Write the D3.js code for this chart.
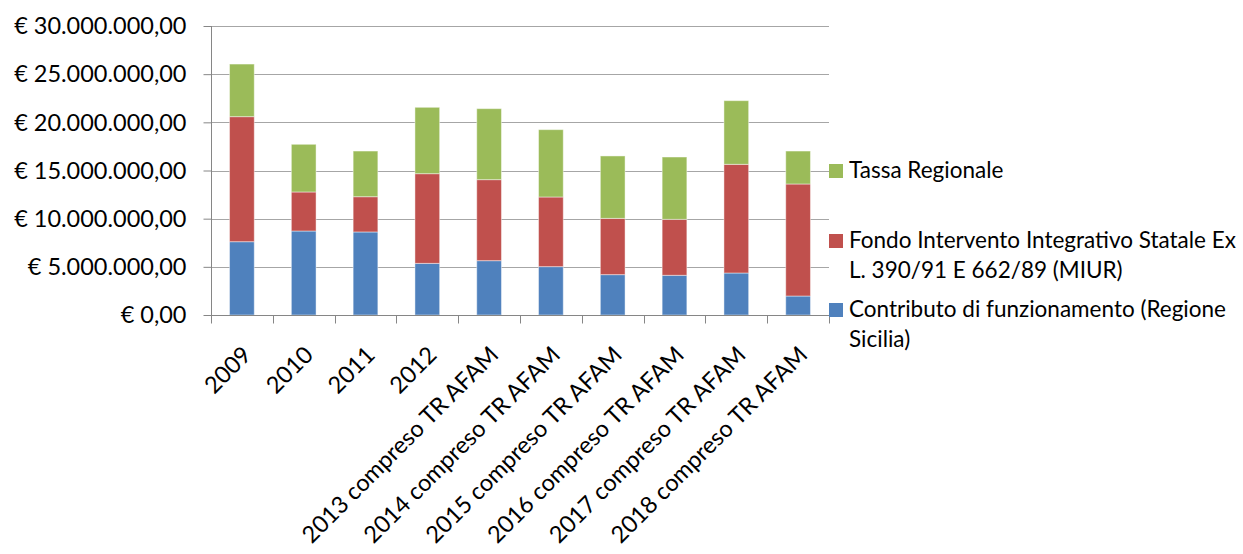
<!DOCTYPE html>
<html>
<head>
<meta charset="utf-8">
<script src="https://cdn.jsdelivr.net/npm/d3@7"></script>
<style>
  html, body { margin: 0; padding: 0; background: #fff; }
  svg { display: block; font-family: Lato, "Liberation Sans", sans-serif; }
</style>
</head>
<body>
<svg id="chart" width="1243" height="554"></svg>
<script>
const categories = [
  "2009", "2010", "2011", "2012",
  "2013 compreso TR AFAM", "2014 compreso TR AFAM", "2015 compreso TR AFAM",
  "2016 compreso TR AFAM", "2017 compreso TR AFAM", "2018 compreso TR AFAM"
];
// Contributo di funzionamento (Regione Sicilia)
const contributo = [7610000, 8720000, 8620000, 5360000, 5640000, 5020000, 4190000, 4120000, 4360000, 1970000];
// Fondo Intervento Integrativo Statale Ex L. 390/91 E 662/89 (MIUR)
const fondo = [12980000, 4050000, 3660000, 9310000, 8410000, 7230000, 5840000, 5810000, 11280000, 11630000];
// Tassa Regionale
const tassa = [5460000, 4950000, 4740000, 6890000, 7370000, 6990000, 6480000, 6470000, 6610000, 3420000];

const seriesKeys = ["contributo", "fondo", "tassa"];
const seriesColors = ["#4F81BD", "#C0504D", "#9BBB59"];
const legendLines = [
  ["Contributo di funzionamento (Regione", "Sicilia)"],
  ["Fondo Intervento Integrativo Statale Ex", "L. 390/91 E 662/89 (MIUR)"],
  ["Tassa Regionale"]
];
const yTicks = [0, 5000000, 10000000, 15000000, 20000000, 25000000, 30000000];

(function () {
const table = categories.map((c, i) => ({
  cat: c, contributo: contributo[i], fondo: fondo[i], tassa: tassa[i]
}));

const svg = d3.select("#chart");
const pL = 211, pR = 829, pT = 26, pB = 315;
const FONT = "Lato, 'Liberation Sans', sans-serif";

const x = d3.scaleBand().domain(categories).range([pL, pR])
  .paddingInner(0.6).paddingOuter(0.3);
const y = d3.scaleLinear().domain([0, 30000000]).range([pB, pT]);

const locale = d3.formatLocale({ decimal: ",", thousands: ".", grouping: [3], currency: ["€ ", ""] });
const fmt = locale.format("$,.2f");

// gridlines
svg.append("g")
  .selectAll("line").data(yTicks.filter(d => d > 0)).join("line")
  .attr("x1", pL).attr("x2", pR)
  .attr("y1", d => Math.round(y(d)) + 0.5).attr("y2", d => Math.round(y(d)) + 0.5)
  .attr("stroke", "#a6a6a6").attr("stroke-width", 1);

// bars
const stacked = d3.stack().keys(seriesKeys)(table);
svg.append("g").selectAll("g").data(stacked).join("g")
  .attr("fill", (d, i) => seriesColors[i])
  .selectAll("rect").data(d => d).join("rect")
  .attr("x", d => x(d.data.cat))
  .attr("width", x.bandwidth())
  .attr("y", d => y(d[1]))
  .attr("height", d => y(d[0]) - y(d[1]))
  .attr("stroke", "rgba(255,255,255,0.45)")
  .attr("stroke-width", 1);

// y axis
const yAxis = d3.axisLeft(y).tickValues(yTicks).tickFormat(fmt).tickSize(8).tickPadding(17);
const gy = svg.append("g").attr("transform", `translate(${pL + 0.5},0)`).call(yAxis)
  .attr("font-family", FONT);
gy.select(".domain").attr("stroke", "#868686").attr("d", `M0,${pT}V${pB}`);
gy.selectAll(".tick line").attr("stroke", "#868686");
gy.selectAll(".tick text").attr("fill", "#000").attr("font-size", 23.5)
  .attr("dy", "0.33em");

// x axis
const xAxis = d3.axisBottom(x).tickSize(0).tickFormat("");
const gx = svg.append("g").attr("transform", `translate(0,${pB + 0.5})`).call(xAxis)
  .attr("font-family", FONT);
gx.select(".domain").attr("stroke", "#868686").attr("d", `M${pL},0H${pR}`);
const boundaries = categories.map(c => x(c) - x.step() * x.paddingOuter()).concat([pR]);
gx.append("g").selectAll("line").data(boundaries).join("line")
  .attr("x1", d => Math.round(d) + 0.5).attr("x2", d => Math.round(d) + 0.5)
  .attr("y1", 0).attr("y2", 8).attr("stroke", "#868686");
gx.append("g").selectAll("text").data(categories).join("text")
  .attr("transform", d => `translate(${x(d) + x.bandwidth() / 2 + 5},${35}) rotate(-45)`)
  .attr("text-anchor", "end").attr("dy", "0.35em")
  .attr("font-size", 23.5).attr("fill", "#000")
  .text(d => d);

// legend (top to bottom: Tassa, Fondo, Contributo)
const legendOrder = [2, 1, 0];
const legendTops = [164, 234, 303];
const legend = svg.append("g").attr("font-family", FONT);
legendOrder.forEach((si, k) => {
  const g = legend.append("g").attr("transform", `translate(829,${legendTops[k]})`);
  g.append("rect").attr("width", 14).attr("height", 14).attr("fill", seriesColors[si]);
  const t = g.append("text").attr("font-size", 22.5).attr("fill", "#000");
  legendLines[si].forEach((line, li) => {
    t.append("tspan").attr("x", 20).attr("y", 14 + li * 30).text(line);
  });
});
})();
</script>
</body>
</html>
